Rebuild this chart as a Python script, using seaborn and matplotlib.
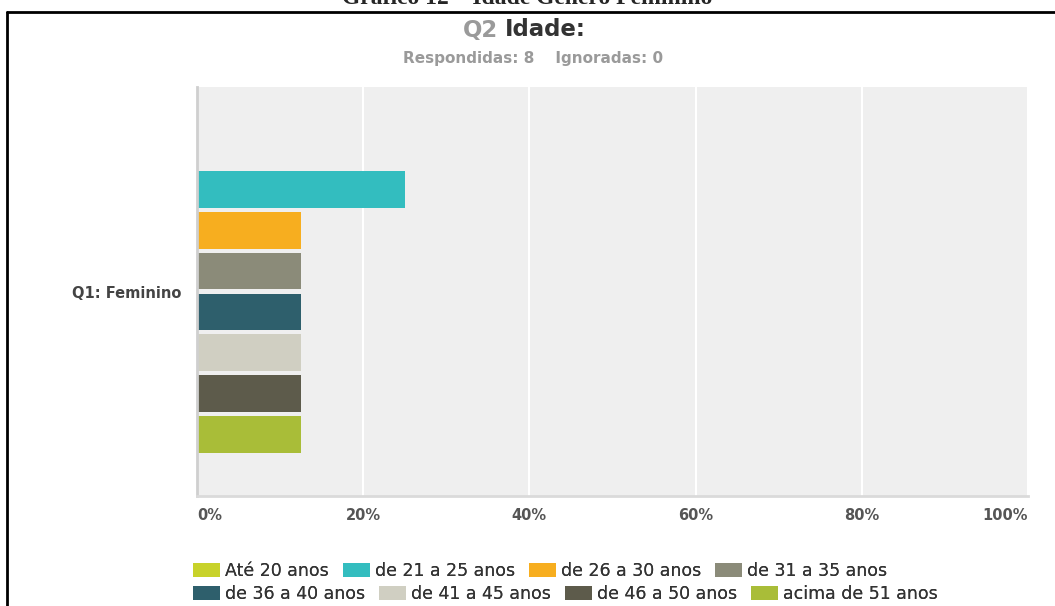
import matplotlib
matplotlib.use("Agg")
import matplotlib.pyplot as plt
from matplotlib.lines import Line2D
from matplotlib.patches import Patch
import seaborn as sns
import pandas as pd

# dados do gráfico
grupo = "Q1: Feminino"
faixas = [
    "Até 20 anos",
    "de 21 a 25 anos",
    "de 26 a 30 anos",
    "de 31 a 35 anos",
    "de 36 a 40 anos",
    "de 41 a 45 anos",
    "de 46 a 50 anos",
    "acima de 51 anos",
]
percentuais = [0, 25, 12.5, 12.5, 12.5, 12.5, 12.5, 12.5]
cores = ["#c8d22a", "#33bdbf", "#f7ae1f", "#8b8b79", "#2e5f6c", "#d0cfc2", "#5d5b4b", "#a9bd38"]
xticks = [0, 20, 40, 60, 80, 100]
xticklabels = ["0%", "20%", "40%", "60%", "80%", "100%"]

df = pd.DataFrame({"grupo": [grupo] * len(faixas), "faixa": faixas, "pct": percentuais})

sns.set_style("white")
plt.rcParams["font.family"] = ["DejaVu Sans"]

W, H = 1055, 606
fig = plt.figure(figsize=(W / 100, H / 100), dpi=100)
ax = fig.add_axes([197 / W, 1 - 496 / H, (1028 - 197) / W, (496 - 87) / H])
ax.set_facecolor("#efefef")

sns.barplot(
    data=df, x="pct", y="grupo", hue="faixa", hue_order=faixas,
    palette=cores, saturation=1, orient="h", width=0.8, gap=0.1, linewidth=0,
    legend=False, ax=ax,
)

ax.set_xlim(0, 100)
ax.set_ylim(0.5, -0.5)
ax.set_xticks(xticks)
ax.set_xticklabels(xticklabels, fontsize=10.5, fontweight="bold", color="#555555")
labs = ax.get_xticklabels()
labs[0].set_ha("left")
labs[-1].set_ha("right")
ax.tick_params(axis="x", length=0, pad=9)
ax.tick_params(axis="y", length=0, pad=11)
for lab in ax.get_yticklabels():
    lab.set_fontsize(10.5)
    lab.set_fontweight("bold")
    lab.set_color("#444444")
ax.set_xlabel("")
ax.set_ylabel("")
ax.grid(axis="x", color="white", linewidth=1.5)
ax.set_axisbelow(True)
for s in ["top", "right"]:
    ax.spines[s].set_visible(False)
ax.spines["left"].set_color("#cfcfcf")
ax.spines["left"].set_linewidth(2)
ax.spines["bottom"].set_color("#dadada")
ax.spines["bottom"].set_linewidth(2)

# moldura e legenda da página
fig.add_artist(Line2D([7 / W, 1], [1 - 11.5 / H, 1 - 11.5 / H], color="black", lw=2, transform=fig.transFigure))
fig.add_artist(Line2D([7 / W, 7 / W], [0, 1 - 11.5 / H], color="black", lw=2, transform=fig.transFigure))
fig.text(0.5, 1 - 4 / H, "Gráfico 12 – Idade Gênero Feminino", ha="center", va="baseline",
         fontsize=17, fontweight="bold", family="Liberation Serif")

# títulos
fig.text(498 / W, 1 - 30 / H, "Q2", ha="right", va="center", fontsize=16.5,
         fontweight="bold", color="#9a9a9a")
fig.text(505 / W, 1 - 30 / H, "Idade:", ha="left", va="center", fontsize=16.5,
         fontweight="bold", color="#333333")
fig.text(533 / W, 1 - 59 / H, "Respondidas: 8    Ignoradas: 0", ha="center", va="center",
         fontsize=11, fontweight="bold", color="#9a9a9a")

# legenda em duas linhas
handles = [Patch(facecolor=c, edgecolor="none") for c in cores]
for linha, yc in [(0, 571), (1, 594)]:
    idx = range(linha * 4, linha * 4 + 4)
    leg = fig.legend(
        [handles[i] for i in idx], [faixas[i] for i in idx],
        loc="center left", bbox_to_anchor=(193 / W, 1 - yc / H), ncol=4,
        frameon=False, fontsize=12.5, handlelength=1.55, handleheight=0.8,
        handletextpad=0.3, columnspacing=0.8, borderpad=0, borderaxespad=0,
    )
    for t in leg.get_texts():
        t.set_color("#333333")
    fig.add_artist(leg)

fig.savefig("out.png", dpi=100)
plt.close(fig)
